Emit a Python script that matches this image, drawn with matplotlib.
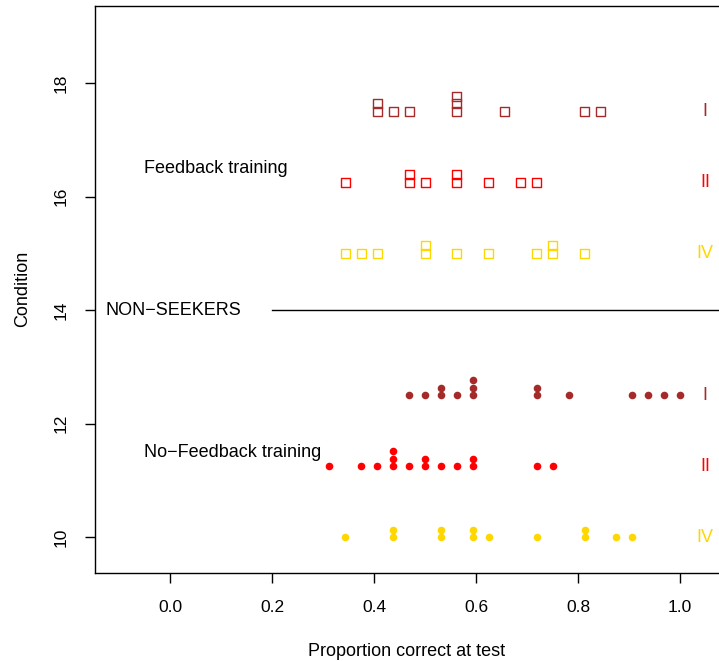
import matplotlib
matplotlib.use("Agg")
import matplotlib.pyplot as plt
from collections import Counter

plt.rcParams['font.family'] = ['Liberation Sans', 'DejaVu Sans']

# proportion correct at test (items out of 32), one entry per participant
fb_I = [13, 13, 14, 15, 18, 18, 18, 21, 26, 27]
fb_II = [11, 15, 15, 16, 18, 18, 20, 22, 23]
fb_IV = [11, 12, 13, 16, 16, 18, 20, 23, 24, 24, 26]
nf_I = [15, 16, 17, 17, 18, 19, 19, 19, 23, 23, 25, 29, 30, 31, 32]
nf_II = [10, 12, 13, 14, 14, 14, 15, 16, 16, 17, 18, 19, 19, 23, 24]
nf_IV = [11, 14, 14, 17, 17, 19, 19, 20, 23, 26, 26, 28, 29]
n_items = 32

groups = ['I', 'II', 'IV', 'I', 'II', 'IV']
rows = [17.5, 16.25, 15.0, 12.5, 11.25, 10.0]
colors = ['#A52A2A', '#FF0000', '#FFD700'] * 2
series = [fb_I, fb_II, fb_IV, nf_I, nf_II, nf_IV]
feedback = [True, True, True, False, False, False]

fig = plt.figure(figsize=(7.19, 6.61), dpi=100)
ax = fig.add_axes([0.1321, 0.1336, 0.8679, 0.8578])

step = 0.134
for vals, y0, col, fb, grp in zip(series, rows, colors, feedback, groups):
    xs, ys = [], []
    for v, n in sorted(Counter(vals).items()):
        for k in range(n):
            xs.append(v / n_items)
            ys.append(y0 + k * step)
    if fb:
        ax.scatter(xs, ys, marker='s', s=42, facecolors='none',
                   edgecolors=col, linewidths=1.0, clip_on=False)
    else:
        ax.scatter(xs, ys, marker='o', s=30, color=col, linewidths=0)
    ax.text(1.049, y0, grp, color=col, fontsize=13, ha='center', va='center')

ax.text(-0.05, 16.5, 'Feedback training', fontsize=13, ha='left', va='center')
ax.text(-0.05, 11.5, 'No\u2212Feedback training', fontsize=13, ha='left', va='center')
ax.text(0.007, 14, 'NON\u2212SEEKERS', fontsize=13, ha='center', va='center')
ax.plot([0.2, 1.076], [14, 14], color='black', lw=1)

ax.set_xlim(-0.147, 1.076)
ax.set_ylim(9.377, 19.361)
ax.set_xticks([0.0, 0.2, 0.4, 0.6, 0.8, 1.0])
ax.set_xticklabels(['0.0', '0.2', '0.4', '0.6', '0.8', '1.0'])
ax.set_yticks([10, 12, 14, 16, 18])
ax.set_yticklabels(['10', '12', '14', '16', '18'], rotation=90, va='center')
ax.tick_params(direction='out', length=7, width=1, labelsize=12.5, pad=13)
ax.tick_params(axis='y', pad=12)
ax.spines['right'].set_visible(False)
for s in ['left', 'top', 'bottom']:
    ax.spines[s].set_linewidth(1)

ax.set_xlabel('Proportion correct at test', fontsize=13, labelpad=20)
ax.set_ylabel('Condition', fontsize=13, labelpad=16)

fig.savefig('out.png', dpi=100)
